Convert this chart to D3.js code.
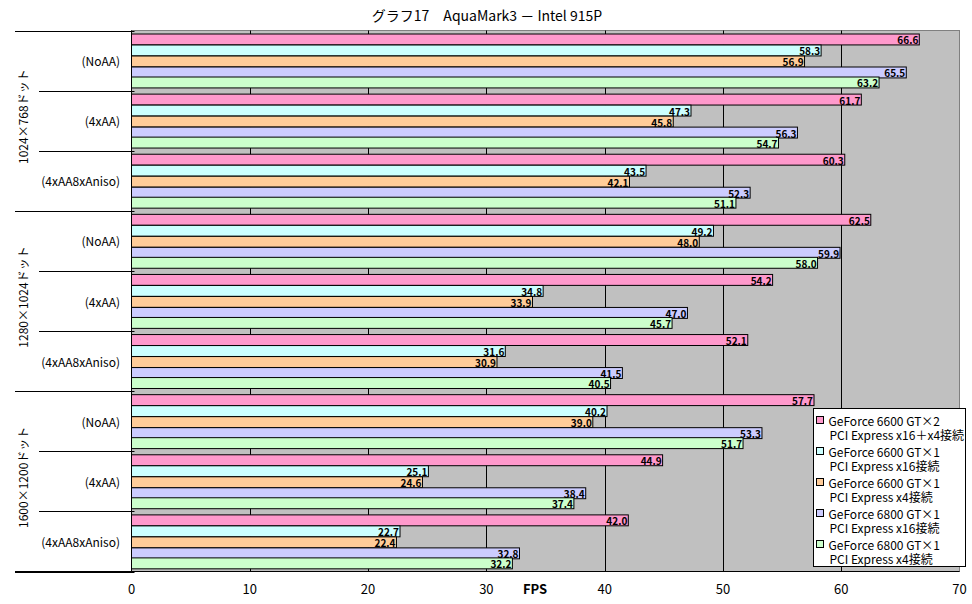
<!DOCTYPE html>
<html>
<head>
<meta charset="utf-8">
<script src="https://cdn.jsdelivr.net/npm/d3@7"></script>
<style>
  body { margin: 0; background: #fff; }
  svg { display: block; }
  text { font-family: "Liberation Sans Narrow", "Noto Sans CJK JP", sans-serif; fill: #000; }
  .jp { font-family: "Noto Sans CJK JP", "Liberation Sans", sans-serif; }
</style>
</head>
<body>
<div id="chart"></div>
<script>
const title = "グラフ17　AquaMark3 － Intel 915P";

const resolutions = ["1024×768ドット", "1280×1024ドット", "1600×1200ドット"];
const settings = ["(NoAA)", "(4xAA)", "(4xAA8xAniso)"];

const seriesNames = [
    ["GeForce 6600 GT×2", "PCI Express x16＋x4接続"],
    ["GeForce 6600 GT×1", "PCI Express x16接続"],
    ["GeForce 6600 GT×1", "PCI Express x4接続"],
    ["GeForce 6800 GT×1", "PCI Express x16接続"],
    ["GeForce 6800 GT×1", "PCI Express x4接続"]
];
const seriesColors = ["#ff99cc", "#ccffff", "#ffcc99", "#ccccff", "#ccffcc"];

// one row per resolution/setting, one value per series (top to bottom)
const fps1024 = [
    [66.6, 58.3, 56.9, 65.5, 63.2],
    [61.7, 47.3, 45.8, 56.3, 54.7],
    [60.3, 43.5, 42.1, 52.3, 51.1]
];
const fps1280 = [
    [62.5, 49.2, 48.0, 59.9, 58.0],
    [54.2, 34.8, 33.9, 47.0, 45.7],
    [52.1, 31.6, 30.9, 41.5, 40.5]
];
const fps1600 = [
    [57.7, 40.2, 39.0, 53.3, 51.7],
    [44.9, 25.1, 24.6, 38.4, 37.4],
    [42.0, 22.7, 22.4, 32.8, 32.2]
];
const xTicks = [0, 10, 20, 30, 40, 50, 60, 70];

const width = 972, height = 604;
const plot = {left: 131.5, right: 959.5, top: 30.5, bottom: 571.5};

const svg = d3.select("#chart").append("svg")
    .attr("width", width)
    .attr("height", height);

// build rows
const rows = [];
[fps1024, fps1280, fps1600].forEach((grp, gi) => {
    grp.forEach((vals, si) => {
        rows.push({key: gi + "-" + si, group: gi, setting: settings[si], values: vals});
    });
});

const x = d3.scaleLinear().domain([0, 70]).range([plot.left, plot.right]);
const y = d3.scaleBand().domain(rows.map(d => d.key)).range([plot.top, plot.bottom]);
const ySub = d3.scaleBand().domain(d3.range(seriesNames.length))
    .range([0, y.bandwidth()]).paddingOuter(0.25).paddingInner(0);

// plot background
svg.append("rect")
    .attr("x", plot.left)
    .attr("y", plot.top)
    .attr("width", plot.right - plot.left)
    .attr("height", plot.bottom - plot.top)
    .attr("fill", "#c0c0c0")
    .attr("stroke", "#808080");

// gridlines
svg.append("g")
    .selectAll("line")
    .data(xTicks.slice(1, -1))
    .join("line")
    .attr("x1", d => Math.round(x(d)) + 0.5)
    .attr("x2", d => Math.round(x(d)) + 0.5)
    .attr("y1", plot.top)
    .attr("y2", plot.bottom)
    .attr("stroke", "#000");

// bars
const rowG = svg.append("g")
    .selectAll("g")
    .data(rows)
    .join("g")
    .attr("transform", d => `translate(0 ${y(d.key)})`);

rowG.selectAll("rect")
    .data(d => d.values)
    .join("rect")
    .attr("x", x(0))
    .attr("y", (d, i) => Math.round(ySub(i)) + 0.5)
    .attr("width", d => x(d) - x(0))
    .attr("height", ySub.bandwidth())
    .attr("fill", (d, i) => seriesColors[i])
    .attr("stroke", "#000");

rowG.selectAll("text")
    .data(d => d.values)
    .join("text")
    .attr("x", d => x(d) - 1)
    .attr("y", (d, i) => Math.round(ySub(i)) + ySub.bandwidth() / 2 + 1)
    .attr("text-anchor", "end")
    .attr("dominant-baseline", "central")
    .attr("font-size", 10)
    .attr("font-weight", "bold")
    .text(d => d.toFixed(1));

// left axis
svg.append("line")
    .attr("x1", plot.left).attr("x2", plot.left)
    .attr("y1", plot.top).attr("y2", plot.bottom)
    .attr("stroke", "#000");

// row separators
const bounds = d3.range(rows.length + 1).map(i => plot.top + i * y.step());
svg.append("g")
    .selectAll("line")
    .data(bounds)
    .join("line")
    .attr("x1", (d, i) => i % 3 === 0 ? 15 : 39)
    .attr("x2", plot.left + 3)
    .attr("y1", d => Math.round(d) + 0.5)
    .attr("y2", d => Math.round(d) + 0.5)
    .attr("stroke", "#000");

// bottom axis
svg.append("line")
    .attr("x1", 15).attr("x2", plot.right)
    .attr("y1", plot.bottom).attr("y2", plot.bottom)
    .attr("stroke", "#000");

// setting labels
svg.append("g")
    .selectAll("text")
    .data(rows)
    .join("text")
    .attr("class", "jp")
    .attr("x", 120)
    .attr("y", d => y(d.key) + y.bandwidth() / 2)
    .attr("text-anchor", "end")
    .attr("dominant-baseline", "central")
    .attr("font-size", 12)
    .text(d => d.setting);

// resolution labels
svg.append("g")
    .selectAll("text")
    .data(resolutions)
    .join("text")
    .attr("class", "jp")
    .attr("transform", (d, i) => `translate(22 ${plot.top + (i * 3 + 1.5) * y.step() - 4}) rotate(-90)`)
    .attr("text-anchor", "middle")
    .attr("dominant-baseline", "central")
    .attr("font-size", 12)
    .text(d => d);

// x tick labels
svg.append("g")
    .selectAll("text")
    .data(xTicks)
    .join("text")
    .attr("x", d => x(d))
    .attr("y", 588)
    .attr("text-anchor", "middle")
    .attr("dominant-baseline", "central")
    .attr("font-size", 13)
    .text(d => d);

svg.append("text")
    .attr("x", 535)
    .attr("y", 588)
    .attr("text-anchor", "middle")
    .attr("dominant-baseline", "central")
    .attr("font-size", 13)
    .attr("font-weight", "bold")
    .text("FPS");

// title
svg.append("text")
    .attr("class", "jp")
    .attr("x", 487)
    .attr("y", 15)
    .attr("text-anchor", "middle")
    .attr("dominant-baseline", "central")
    .attr("font-size", 14)
    .text(title);

// legend
const legend = svg.append("g")
    .attr("transform", "translate(813.5 408.5)");

legend.append("rect")
    .attr("width", 152)
    .attr("height", 158)
    .attr("fill", "#fff")
    .attr("stroke", "#000");

const item = legend.selectAll(".item")
    .data(seriesNames)
    .join("g")
    .attr("class", "item")
    .attr("transform", (d, i) => `translate(0 ${i * 31})`);

item.append("rect")
    .attr("x", 3)
    .attr("y", 8)
    .attr("width", 7)
    .attr("height", 7)
    .attr("fill", (d, i) => seriesColors[i])
    .attr("stroke", "#000");

item.append("text")
    .attr("class", "jp")
    .attr("x", 15)
    .attr("y", 12)
    .attr("dominant-baseline", "central")
    .attr("font-size", 12)
    .text(d => d[0]);

item.append("text")
    .attr("class", "jp")
    .attr("x", 16)
    .attr("y", 26)
    .attr("dominant-baseline", "central")
    .attr("font-size", 12)
    .text(d => d[1]);
</script>
</body>
</html>
